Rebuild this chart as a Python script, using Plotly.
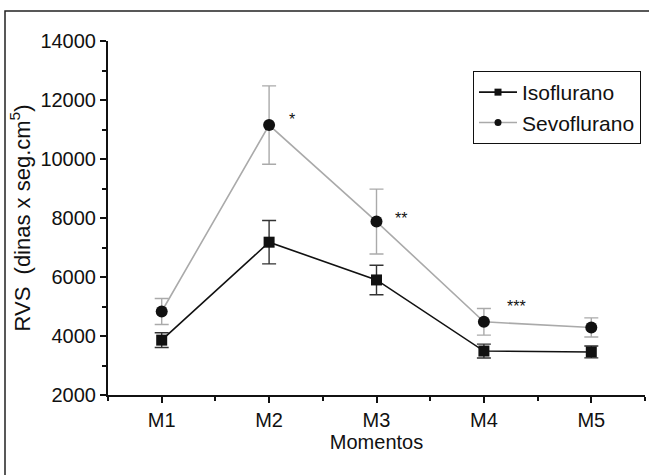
import plotly.graph_objects as go

# Measurement moments and group means with their error half-widths
momentos = ["M1", "M2", "M3", "M4", "M5"]
x_pos = [1, 2, 3, 4, 5]

iso_mean = [3860, 7180, 5900, 3490, 3460]
iso_err = [250, 735, 500, 235, 200]

sevo_mean = [4830, 11150, 7880, 4480, 4290]
sevo_err = [440, 1330, 1100, 450, 325]

# Significance marks placed beside the Sevoflurano points
sig_x = [2.21, 3.23, 4.30]
sig_y = [11330, 8000, 5000]
sig_text = ["*", "**", "***"]

FONT = "Liberation Sans, Arial, Helvetica, sans-serif"
FS = 20

ISO_COLOR = "#111111"
SEVO_LINE = "#aaaaaa"

fig = go.Figure()

fig.add_trace(go.Scatter(
    x=x_pos, y=iso_mean, name="Isoflurano", mode="lines+markers",
    line=dict(color=ISO_COLOR, width=1.6),
    marker=dict(symbol="square", size=11, color=ISO_COLOR),
    error_y=dict(type="data", array=iso_err, color="#333333",
                 thickness=1.4, width=7),
    showlegend=False,
))

fig.add_trace(go.Scatter(
    x=x_pos, y=sevo_mean, name="Sevoflurano", mode="lines+markers",
    line=dict(color=SEVO_LINE, width=1.6),
    marker=dict(symbol="circle", size=12, color=ISO_COLOR),
    error_y=dict(type="data", array=sevo_err, color=SEVO_LINE,
                 thickness=1.4, width=7),
    showlegend=False,
))

# Legend entries with small key symbols
fig.add_trace(go.Scatter(
    x=[None], y=[None], name="Isoflurano", mode="lines+markers",
    line=dict(color=ISO_COLOR, width=1.6),
    marker=dict(symbol="square", size=7, color=ISO_COLOR),
))
fig.add_trace(go.Scatter(
    x=[None], y=[None], name="Sevoflurano", mode="lines+markers",
    line=dict(color=SEVO_LINE, width=1.6),
    marker=dict(symbol="circle", size=7, color=ISO_COLOR),
))

for sx, sy, st in zip(sig_x, sig_y, sig_text):
    fig.add_annotation(x=sx, y=sy, text=st, showarrow=False,
                       font=dict(family=FONT, size=16, color="#111111"),
                       xanchor="center", yanchor="middle")

# Plot area in pixels
L, T, W, H = 108, 41, 537, 354
def px_x(p):
    return (p - L) / W
def px_y(p):
    return (T + H - p) / H

# Outer frame around the figure
fig.add_shape(type="rect", xref="paper", yref="paper",
              x0=px_x(5), x1=px_x(720), y0=px_y(540), y1=px_y(11),
              line=dict(color="#222222", width=1.5), fillcolor="rgba(0,0,0,0)",
              layer="below")

fig.update_layout(
    width=649, height=475,
    margin=dict(l=L, r=649 - L - W, t=T, b=475 - T - H, autoexpand=False),
    paper_bgcolor="white", plot_bgcolor="white",
    font=dict(family=FONT, size=FS, color="#111111"),
    showlegend=True,
    legend=dict(x=px_x(473), y=px_y(71), xanchor="left", yanchor="top",
                bordercolor="#111111", borderwidth=1, bgcolor="white",
                font=dict(family=FONT, size=21, color="#111111"),
                tracegroupgap=0, itemwidth=38),
)

fig.update_xaxes(
    range=[0.5, 5.5], tickvals=x_pos, ticktext=momentos,
    showline=True, linecolor="#111111", linewidth=2,
    ticks="outside", ticklen=6, tickwidth=1.5, tickcolor="#111111",
    minor=dict(tick0=0.5, dtick=1, ticks="outside", ticklen=4,
               tickwidth=1.5, tickcolor="#111111"),
    showgrid=False, zeroline=False,
    tickfont=dict(family=FONT, size=FS),
    title=dict(text="Momentos", font=dict(family=FONT, size=FS), standoff=0),
)

fig.update_yaxes(
    range=[2000, 14000], dtick=2000, tick0=2000, tickformat="d",
    showline=True, linecolor="#111111", linewidth=2,
    ticks="outside", ticklen=6, tickwidth=1.5, tickcolor="#111111",
    minor=dict(dtick=1000, ticks="outside", ticklen=4,
               tickwidth=1.5, tickcolor="#111111"),
    showgrid=False, zeroline=False,
    tickfont=dict(family=FONT, size=FS),
    title=dict(text="RVS  (dinas x seg.cm<sup>5</sup>)",
               font=dict(family=FONT, size=22), standoff=4),
)

fig.write_html("out.html")
